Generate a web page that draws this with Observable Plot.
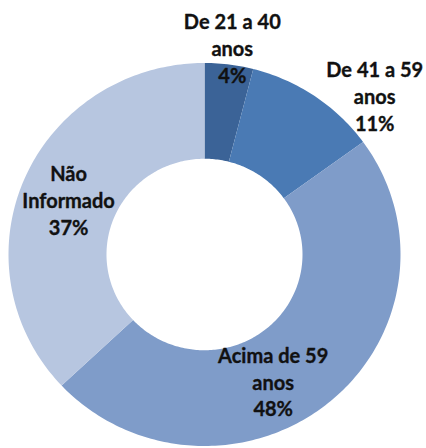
<!DOCTYPE html>
<html>
<head>
<meta charset="utf-8">
<script src="https://cdn.jsdelivr.net/npm/d3@7"></script>
<script src="https://cdn.jsdelivr.net/npm/@observablehq/plot@0.6"></script>
<style>
  html, body { margin: 0; padding: 0; background: #fff; }
  #chart svg { display: block; }
</style>
</head>
<body>
<div id="chart"></div>
<script>
// ---- data ----
const categories = ["De 21 a 40 anos", "De 41 a 59 anos", "Acima de 59 anos", "Não Informado"];
const labelNames = ["De 21 a 40\nanos", "De 41 a 59\nanos", "Acima de 59\nanos", "Não\nInformado"];
const values = [4, 11, 48, 37];
const colors = ["#3b6397", "#4a7ab4", "#7f9cc9", "#b7c6e0"];

// ---- layout (not data) ----
const innerR = 0.5, outerR = 1;
const labelR = [1.09, 1.2, 0.75, 0.75];
const labelDx = [1, 38, -25, -1];
const labelDy = [0, 31, 16, 2];

const total = d3.sum(values);
let cum = 0;
const slices = values.map((v, i) => {
  const a0 = cum / total * 2 * Math.PI;
  cum += v;
  const a1 = cum / total * 2 * Math.PI;
  return {cat: categories[i], i, v, a0, a1};
});

function arcPoints(s) {
  const n = Math.max(2, Math.ceil((s.a1 - s.a0) / (Math.PI / 180)));
  const pts = [];
  for (let k = 0; k <= n; k++) {
    const a = s.a0 + (s.a1 - s.a0) * k / n;
    pts.push({x: outerR * Math.sin(a), y: outerR * Math.cos(a)});
  }
  for (let k = n; k >= 0; k--) {
    const a = s.a0 + (s.a1 - s.a0) * k / n;
    pts.push({x: innerR * Math.sin(a), y: innerR * Math.cos(a)});
  }
  return pts;
}

const labels = slices.map(s => {
  const m = (s.a0 + s.a1) / 2;
  return {
    x: labelR[s.i] * Math.sin(m),
    y: labelR[s.i] * Math.cos(m),
    text: labelNames[s.i] + "\n" + values[s.i] + "%",
    i: s.i
  };
});

const W = 426, H = 448;
const cx = 204, cy = 254, rx = 196, ry = 191.5;

const marks = slices.map(s =>
  Plot.line(arcPoints(s), {x: "x", y: "y", fill: colors[s.i], stroke: "none", curve: "linear"})
);
labels.forEach(l => {
  marks.push(Plot.text([l], {
    x: "x", y: "y", text: "text",
    dx: labelDx[l.i], dy: labelDy[l.i],
    fontSize: 20, fontWeight: "bold", fill: "#111",
    stroke: "#111", strokeWidth: 0.35,
    lineHeight: 1.33, lineAnchor: "middle", textAnchor: "middle",
    fontFamily: "Lato, 'Open Sans', sans-serif"
  }));
});

const plot = Plot.plot({
  width: W, height: H,
  margin: 0,
  x: {domain: [-cx / rx, (W - cx) / rx], axis: null},
  y: {domain: [-(H - cy) / ry, cy / ry], axis: null},
  style: {fontFamily: "Lato, sans-serif", background: "#fff"},
  marks
});
document.getElementById("chart").appendChild(plot);
</script>
</body>
</html>
